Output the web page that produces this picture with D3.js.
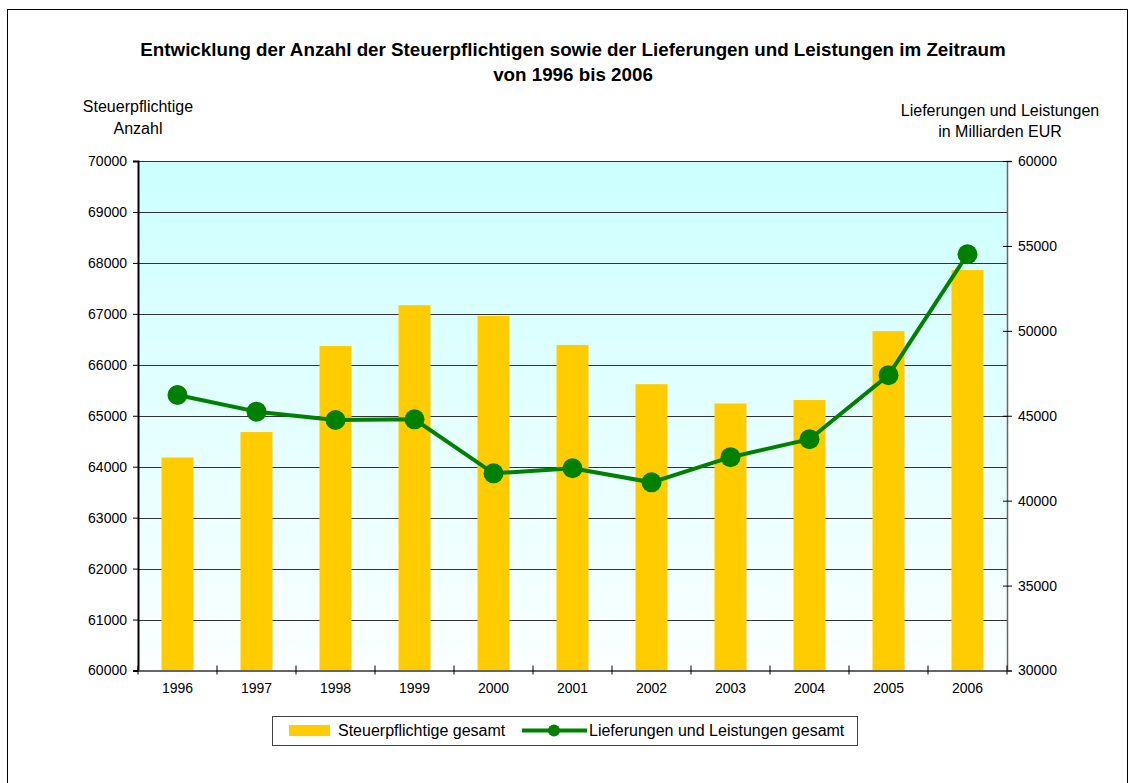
<!DOCTYPE html>
<html>
<head>
<meta charset="utf-8">
<script src="https://cdn.jsdelivr.net/npm/d3@7.9.0/dist/d3.min.js"></script>
<style>
  body { margin: 0; background: #fff; }
  svg { font-family: "Liberation Sans", Arial, sans-serif; }
</style>
</head>
<body>
<svg id="chart" width="1131" height="783"></svg>
<script>
// Data
const years = ['1996', '1997', '1998', '1999', '2000', '2001', '2002', '2003', '2004', '2005', '2006'];
const steuerpflichtige = [64180, 64680, 66370, 67170, 66960, 66390, 65620, 65240, 65310, 66660, 67860];
const lieferungen = [46220, 45240, 44750, 44790, 41610, 41910, 41080, 42560, 43620, 47390, 54510];
const leftTicks = [60000, 61000, 62000, 63000, 64000, 65000, 66000, 67000, 68000, 69000, 70000];
const rightTicks = [30000, 35000, 40000, 45000, 50000, 55000, 60000];

const svg = d3.select('#chart');

// plot area
const plot = { left: 138, right: 1007, top: 161, bottom: 670.5 };

// outer frame
svg.append('rect')
    .attr('x', 7.5).attr('y', 9.5)
    .attr('width', 1120).attr('height', 800)
    .attr('fill', 'none').attr('stroke', '#000').attr('stroke-width', 1);

// background gradient
const grad = svg.append('defs').append('linearGradient')
    .attr('id', 'bg').attr('x1', 0).attr('y1', 0).attr('x2', 0).attr('y2', 1);
grad.append('stop').attr('offset', '0%').attr('stop-color', '#ccffff');
grad.append('stop').attr('offset', '100%').attr('stop-color', '#fbffff');

svg.append('rect')
    .attr('x', plot.left).attr('y', plot.top)
    .attr('width', plot.right - plot.left).attr('height', plot.bottom - plot.top)
    .attr('fill', 'url(#bg)');

// Scales
const x = d3.scaleBand().domain(years).range([plot.left, plot.right]);
const yLeft = d3.scaleLinear().domain([60000, 70000]).range([plot.bottom, plot.top]);
const yRight = d3.scaleLinear().domain([30000, 60000]).range([plot.bottom, plot.top]);

// gridlines
svg.append('g')
    .attr('transform', `translate(${plot.left},0)`)
    .call(d3.axisLeft(yLeft).tickValues(leftTicks).tickFormat('').tickSize(-(plot.right - plot.left)))
    .call((g) => g.select('.domain').remove())
    .call((g) => g.selectAll('line').attr('stroke', '#333').attr('shape-rendering', 'crispEdges'));

// bars
const barW = x.bandwidth() * 0.405;
svg.append('g')
    .selectAll('rect')
    .data(years)
    .join('rect')
    .attr('x', (d) => x(d) + (x.bandwidth() - barW) / 2)
    .attr('width', barW)
    .attr('y', (d, i) => yLeft(steuerpflichtige[i]))
    .attr('height', (d, i) => plot.bottom - yLeft(steuerpflichtige[i]))
    .attr('fill', '#ffcc00');

// Left axis
const leftAxis = svg.append('g')
    .attr('transform', `translate(${plot.left},0)`)
    .call(d3.axisLeft(yLeft).tickValues(leftTicks).tickFormat(d3.format('d')).tickSize(5).tickPadding(6));
leftAxis.select('.domain').attr('stroke', '#000').attr('stroke-width', 2);
leftAxis.selectAll('text').attr('font-size', 14).attr('fill', '#000');

// Right axis
const rightAxis = svg.append('g')
    .attr('transform', `translate(${plot.right},0)`)
    .call(d3.axisRight(yRight).tickValues(rightTicks).tickFormat(d3.format('d')).tickSize(5).tickPadding(6));
rightAxis.select('.domain').attr('stroke', '#666').attr('stroke-width', 1.5);
rightAxis.selectAll('.tick line').attr('x1', -4);
rightAxis.selectAll('text').attr('font-size', 14).attr('fill', '#000');

// Bottom axis (ticks between categories)
const bottom = svg.append('g')
    .attr('transform', `translate(0,${plot.bottom})`)
    .call(d3.axisBottom(x).tickSize(0).tickPadding(13));
bottom.select('.domain').attr('stroke', '#666').attr('stroke-width', 2);
bottom.selectAll('text').attr('font-size', 14).attr('fill', '#000');
bottom.selectAll('.sep')
    .data(years.concat(['end']))
    .join('line')
    .attr('class', 'sep')
    .attr('x1', (d, i) => plot.left + i * x.step())
    .attr('x2', (d, i) => plot.left + i * x.step())
    .attr('y1', -5).attr('y2', 4)
    .attr('stroke', '#000');

// line series
const line = d3.line()
    .x((d, i) => x(years[i]) + x.bandwidth() / 2)
    .y((d) => yRight(d));

svg.append('path')
    .datum(lieferungen)
    .attr('d', line)
    .attr('fill', 'none')
    .attr('stroke', '#008000')
    .attr('stroke-width', 4);

svg.append('g')
    .selectAll('circle')
    .data(lieferungen)
    .join('circle')
    .attr('cx', (d, i) => x(years[i]) + x.bandwidth() / 2)
    .attr('cy', (d) => yRight(d))
    .attr('r', 10)
    .attr('fill', '#008000');

// Title
const title = svg.append('text')
    .attr('text-anchor', 'middle')
    .attr('font-size', 18.8)
    .attr('font-weight', 'bold')
    .attr('fill', '#000');
title.append('tspan').attr('x', 573).attr('y', 56)
    .text('Entwicklung der Anzahl der Steuerpflichtigen sowie der Lieferungen und Leistungen im Zeitraum');
title.append('tspan').attr('x', 573).attr('y', 81).text('von 1996 bis 2006');

// Axis titles
const lt = svg.append('text').attr('text-anchor', 'middle').attr('font-size', 16).attr('fill', '#000');
lt.append('tspan').attr('x', 138).attr('y', 112).text('Steuerpflichtige');
lt.append('tspan').attr('x', 138).attr('y', 134).text('Anzahl');

const rt = svg.append('text').attr('text-anchor', 'middle').attr('font-size', 16).attr('fill', '#000');
rt.append('tspan').attr('x', 1000).attr('y', 116).text('Lieferungen und Leistungen');
rt.append('tspan').attr('x', 1000).attr('y', 137).text('in Milliarden EUR');

// Legend
const legend = svg.append('g');
legend.append('rect')
    .attr('x', 272.5).attr('y', 716.5).attr('width', 585).attr('height', 29)
    .attr('fill', '#fff').attr('stroke', '#444').attr('stroke-width', 1);
legend.append('rect')
    .attr('x', 289).attr('y', 725).attr('width', 41).attr('height', 11)
    .attr('fill', '#ffcc00');
legend.append('text')
    .attr('x', 338).attr('y', 736).attr('font-size', 16).attr('fill', '#000')
    .text('Steuerpflichtige gesamt');
legend.append('line')
    .attr('x1', 522).attr('x2', 587).attr('y1', 730.5).attr('y2', 730.5)
    .attr('stroke', '#008000').attr('stroke-width', 4);
legend.append('circle')
    .attr('cx', 554).attr('cy', 730.5).attr('r', 6).attr('fill', '#008000');
legend.append('text')
    .attr('x', 589).attr('y', 736).attr('font-size', 16).attr('fill', '#000')
    .text('Lieferungen und Leistungen gesamt');
</script>
</body>
</html>
